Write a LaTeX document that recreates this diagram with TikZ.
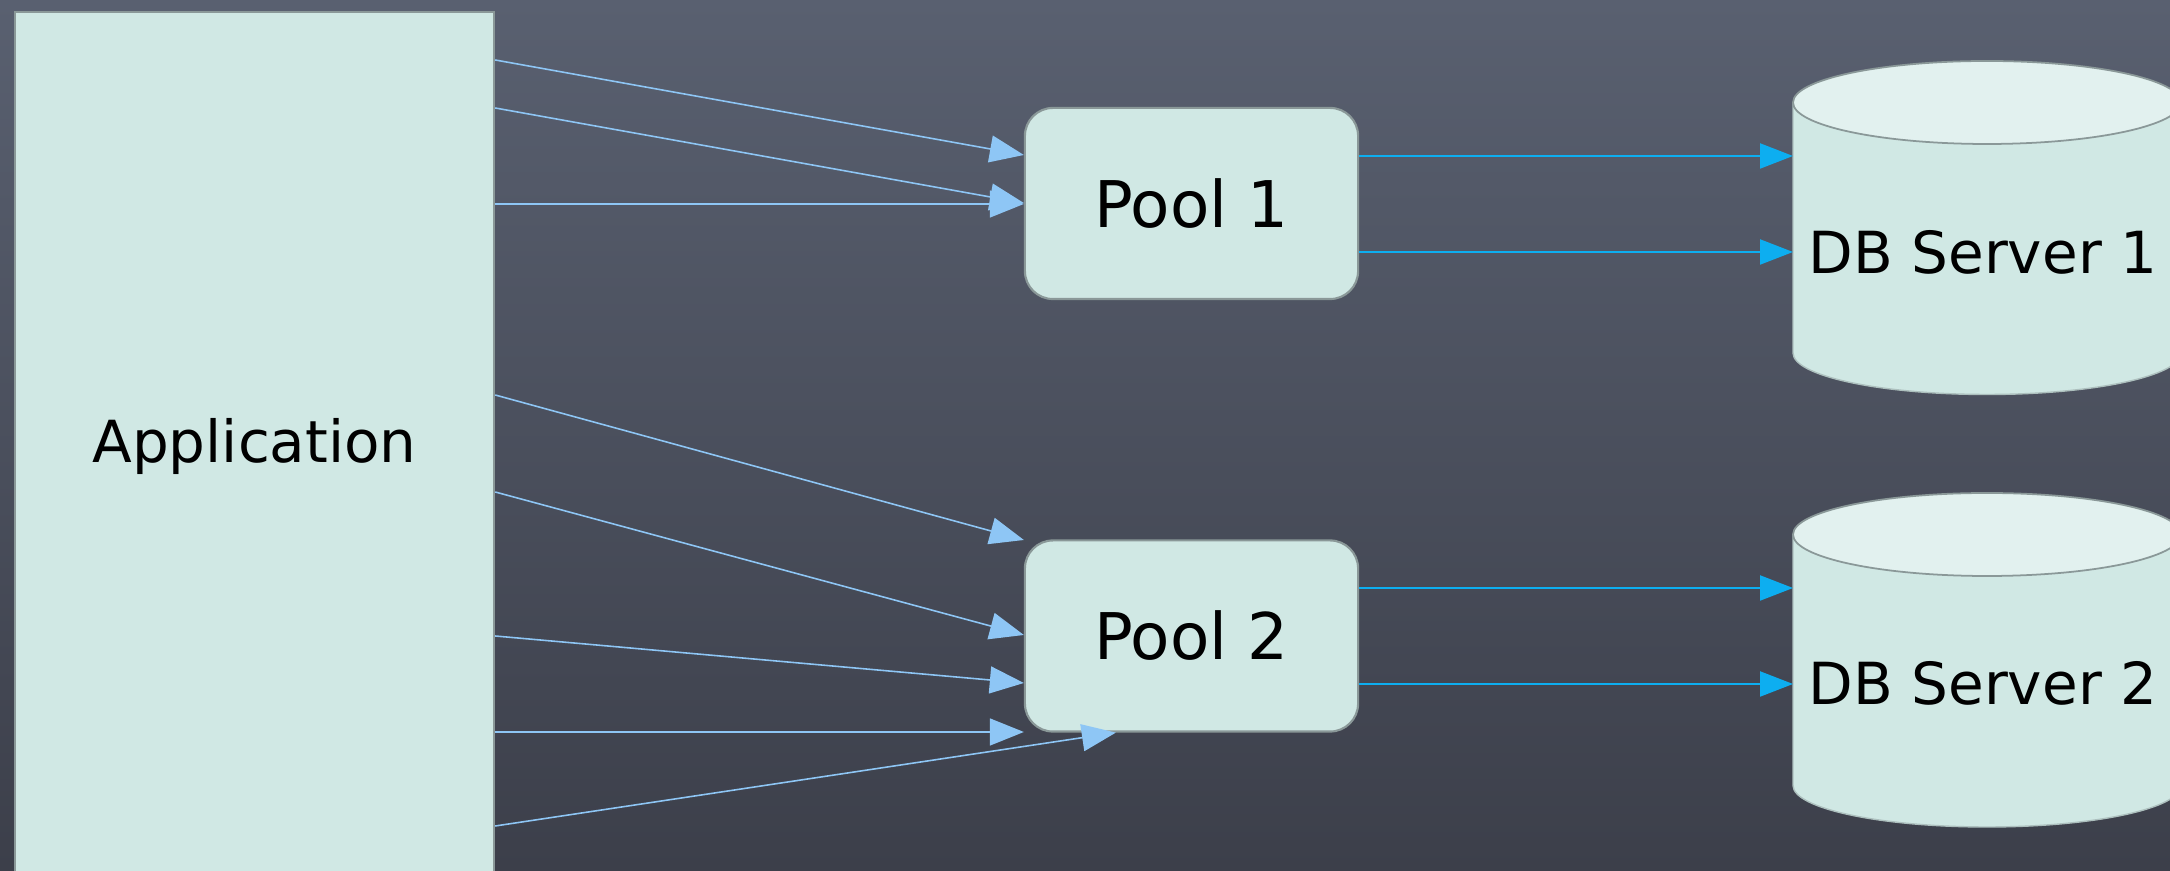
\documentclass[tikz,border=0pt]{standalone}
\usepackage{fontspec}
\setmainfont{DejaVu Sans}
\usetikzlibrary{arrows.meta}

\definecolor{slatetop}{HTML}{596070}
\definecolor{slatebot}{HTML}{3C3F4A}
\definecolor{boxfill}{HTML}{D0E8E4}
\definecolor{capfill}{HTML}{E2F1EF}
\definecolor{boxline}{HTML}{8A9898}
\definecolor{appblue}{HTML}{8EC6F5}
\definecolor{dbblue}{HTML}{0DAEF0}

\tikzset{
  label font/.style={font=\fontsize{16.5}{20}\selectfont},
  box/.style={draw=boxline, line width=0.6pt, fill=boxfill, label font, inner sep=0pt},
  poolbox/.style={box, rounded corners=0.28cm, minimum width=3.33cm, minimum height=1.91cm,
    font=\fontsize{18.3}{22}\selectfont},
  applink/.style={draw=appblue, line width=0.45pt, -{Triangle[length=0.34cm, width=0.27cm, fill=appblue]}},
  dblink/.style={draw=dbblue, line width=0.6pt, -{Triangle[length=0.33cm, width=0.25cm, fill=dbblue]}},
  dbbody/.style={fill=boxfill, draw=boxline!50!boxfill, line width=0.4pt},
  dbcap/.style={fill=capfill, draw=boxline, line width=0.5pt},
}

\begin{document}
\begin{tikzpicture}[x=0.01cm, y=0.01cm]
  \useasboundingbox (0,0) rectangle (2170,-871);
  \shade[top color=slatetop, bottom color=slatebot] (0,0) rectangle (2170,-871);

  % application and pools
  \node[box, minimum width=4.79cm, minimum height=8.70cm] (app) at (254.5,-447) {Application};
  \node[poolbox] (pool1) at (1191.5,-203.5) {Pool 1};
  \node[poolbox] (pool2) at (1191.5,-636) {Pool 2};

  % database servers
  \fill[dbbody] (1793,-102.5) -- (1793,-353) arc[start angle=180, end angle=360, x radius=194, y radius=41.5] -- (2181,-102.5) -- cycle;
  \filldraw[dbcap] (1987,-102.5) ellipse[x radius=194, y radius=41.5];
  \node[label font] (db1) at (1983,-252) {DB Server 1};

  \fill[dbbody] (1793,-534.5) -- (1793,-785.5) arc[start angle=180, end angle=360, x radius=194, y radius=41.5] -- (2181,-534.5) -- cycle;
  \filldraw[dbcap] (1987,-534.5) ellipse[x radius=194, y radius=41.5];
  \node[label font] (db2) at (1983,-683) {DB Server 2};

  \coordinate (db1in1) at (1793,-156);
  \coordinate (db1in2) at (1793,-252);
  \coordinate (db2in1) at (1793,-588);
  \coordinate (db2in2) at (1793,-684);

  % connections from the application
  \draw[applink] (app.east |- 0,-60) -- (pool1.west |- 0,-155);
  \draw[applink] (app.east |- 0,-108) -- (pool1.west |- 0,-203);
  \draw[applink] (app.east |- 0,-204) -- (pool1.west |- 0,-204);

  \draw[applink] (app.east |- 0,-395) -- (pool2.west |- 0,-540);
  \draw[applink] (app.east |- 0,-492) -- (pool2.west |- 0,-635);
  \draw[applink] (app.east |- 0,-636) -- (pool2.west |- 0,-683);
  \draw[applink] (app.east |- 0,-732) -- (pool2.west |- 0,-732);
  \draw[applink] (app.east |- 0,-826) -- ([xshift=0.92cm]pool2.south west);

  % connections to the servers
  \draw[dblink] (pool1.east |- db1in1) -- (db1in1);
  \draw[dblink] (pool1.east |- db1in2) -- (db1in2);
  \draw[dblink] (pool2.east |- db2in1) -- (db2in1);
  \draw[dblink] (pool2.east |- db2in2) -- (db2in2);
\end{tikzpicture}
\end{document}
